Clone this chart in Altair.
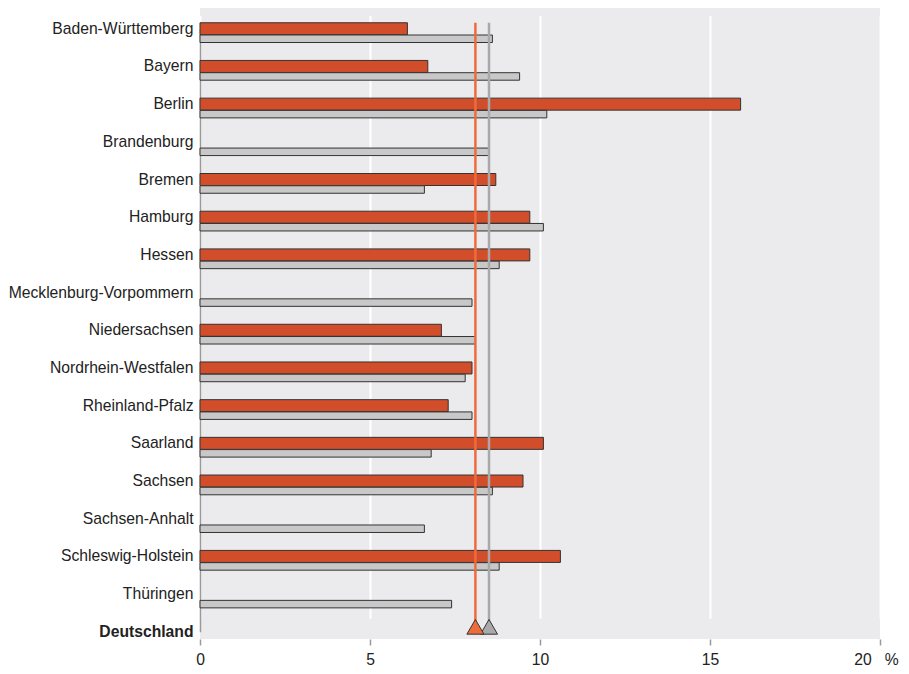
import altair as alt
import pandas as pd

laender = [
    "Baden-Württemberg", "Bayern", "Berlin", "Brandenburg", "Bremen", "Hamburg",
    "Hessen", "Mecklenburg-Vorpommern", "Niedersachsen", "Nordrhein-Westfalen",
    "Rheinland-Pfalz", "Saarland", "Sachsen", "Sachsen-Anhalt",
    "Schleswig-Holstein", "Thüringen",
]
werte_orange = [6.1, 6.7, 15.9, None, 8.7, 9.7, 9.7, None, 7.1, 8.0, 7.3, 10.1, 9.5, None, 10.6, None]
werte_grau = [8.6, 9.4, 10.2, 8.5, 6.6, 10.1, 8.8, 8.0, 8.1, 7.8, 8.0, 6.8, 8.6, 6.6, 8.8, 7.4]
gesamt_label = "Deutschland"
gesamt_orange = 8.1
gesamt_grau = 8.5
x_ticks = [0, 5, 10, 15, 20]

order = laender + [gesamt_label]

df_o = pd.DataFrame({"Land": laender, "Wert": werte_orange}).dropna()
df_g = pd.DataFrame({"Land": laender, "Wert": werte_grau})
df_de = pd.DataFrame({
    "Land": [gesamt_label, gesamt_label],
    "Oben": [laender[0], laender[0]],
    "Wert": [gesamt_orange, gesamt_grau],
    "Reihe": ["orange", "grau"],
})

FONT = "Liberation Sans"
FS = 15.7

yscale = alt.Scale(type="point", domain=order, range=[20.75, 623.8], padding=0)
xscale = alt.Scale(domain=[0, 20], nice=False, zero=True)

y_axis = alt.Axis(
    title=None, ticks=False, domainColor="#9a9a9a", domainWidth=1.5,
    labelPadding=7, labelFontSize=FS, labelFont=FONT, labelColor="#222222",
    labelOffset=-0.5, labelLimit=300,
    labelFontWeight=alt.expr("datum.value == 'Deutschland' ? 'bold' : 'normal'"),
    grid=False,
)
x_axis = alt.Axis(
    title=None, values=x_ticks, domain=False, grid=True, gridColor="#ffffff",
    gridWidth=2, tickColor="#9a9a9a", tickSize=6, tickWidth=1.5,
    labelFontSize=FS, labelFont=FONT, labelColor="#222222", labelPadding=7,
    labelFlush=False,
    labelOffset=alt.expr("datum.value == 20 ? -4 : 0"),
    labelExpr="datum.value == 20 ? '20\u00a0\u00a0\u00a0%' : datum.label",
)

bars_o = alt.Chart(df_o).mark_bar(
    orient="horizontal", size=12, color="#D24E2B", stroke="#333333", strokeWidth=1
).encode(
    x=alt.X("Wert:Q", scale=xscale, axis=x_axis),
    y=alt.Y("Land:N", sort=order, scale=yscale, axis=y_axis),
)

bars_g = alt.Chart(df_g).mark_bar(
    orient="horizontal", size=7.5, yOffset=10, color="#C8C8C8", stroke="#333333", strokeWidth=1
).encode(
    x=alt.X("Wert:Q", scale=xscale),
    y=alt.Y("Land:N", sort=order, scale=yscale),
)

rule_o = alt.Chart(df_de).transform_filter("datum.Reihe == 'orange'").mark_rule(
    color="#EE6B3B", strokeWidth=2.5, yOffset=-6, y2Offset=-5
).encode(
    x=alt.X("Wert:Q", scale=xscale),
    y=alt.Y("Oben:N", sort=order, scale=yscale),
    y2="Land",
)
rule_g = alt.Chart(df_de).transform_filter("datum.Reihe == 'grau'").mark_rule(
    color="#A9A9A9", strokeWidth=2.5, yOffset=-6, y2Offset=-5
).encode(
    x=alt.X("Wert:Q", scale=xscale),
    y=alt.Y("Oben:N", sort=order, scale=yscale),
    y2="Land",
)

tri_g = alt.Chart(df_de).transform_filter("datum.Reihe == 'grau'").mark_point(
    shape="triangle-up", filled=True, size=290, fill="#A9A9A9", stroke="#333333",
    strokeWidth=1, opacity=1, yOffset=-5
).encode(
    x=alt.X("Wert:Q", scale=xscale),
    y=alt.Y("Land:N", sort=order, scale=yscale),
)
tri_o = alt.Chart(df_de).transform_filter("datum.Reihe == 'orange'").mark_point(
    shape="triangle-up", filled=True, size=290, fill="#EE6B3B", stroke="#333333",
    strokeWidth=1, opacity=1, yOffset=-5
).encode(
    x=alt.X("Wert:Q", scale=xscale),
    y=alt.Y("Land:N", sort=order, scale=yscale),
)

chart = alt.layer(bars_o, bars_g, rule_o, rule_g, tri_g, tri_o).properties(
    width=680, height=631,
    autosize=alt.AutoSizeParams(type="none"),
    padding={"left": 192, "top": 0, "right": 21, "bottom": 31},
).configure_view(fill="#EBEBED", strokeWidth=0)

chart.save("out.html", embed_options={"renderer": "svg", "actions": False})
